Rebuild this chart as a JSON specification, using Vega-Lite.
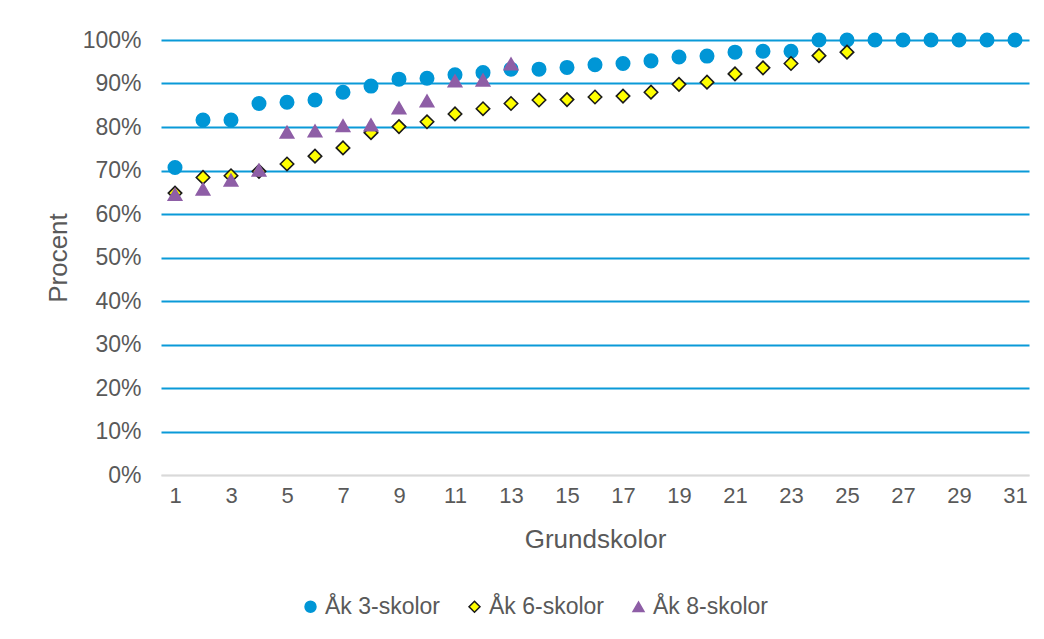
{
  "$schema": "https://vega.github.io/schema/vega-lite/v6.json",
  "width": 868,
  "height": 435,
  "autosize": {"type": "none"},
  "padding": {"left": 161, "top": 40, "right": 15, "bottom": 164},
  "background": "white",
  "config": {
    "font": "Liberation Sans",
    "view": {"stroke": null},
    "axis": {"labelFont": "Liberation Sans", "titleFont": "Liberation Sans", "labelColor": "#595959", "titleColor": "#595959", "titleFontWeight": "normal"}
  },
  "data": {
    "values": [
      {"skola": 1, "serie": "Åk 3-skolor", "andel": 0.707},
      {"skola": 2, "serie": "Åk 3-skolor", "andel": 0.816},
      {"skola": 3, "serie": "Åk 3-skolor", "andel": 0.816},
      {"skola": 4, "serie": "Åk 3-skolor", "andel": 0.854},
      {"skola": 5, "serie": "Åk 3-skolor", "andel": 0.857},
      {"skola": 6, "serie": "Åk 3-skolor", "andel": 0.862},
      {"skola": 7, "serie": "Åk 3-skolor", "andel": 0.880},
      {"skola": 8, "serie": "Åk 3-skolor", "andel": 0.894},
      {"skola": 9, "serie": "Åk 3-skolor", "andel": 0.910},
      {"skola": 10, "serie": "Åk 3-skolor", "andel": 0.912},
      {"skola": 11, "serie": "Åk 3-skolor", "andel": 0.920},
      {"skola": 12, "serie": "Åk 3-skolor", "andel": 0.925},
      {"skola": 13, "serie": "Åk 3-skolor", "andel": 0.933},
      {"skola": 14, "serie": "Åk 3-skolor", "andel": 0.933},
      {"skola": 15, "serie": "Åk 3-skolor", "andel": 0.937},
      {"skola": 16, "serie": "Åk 3-skolor", "andel": 0.943},
      {"skola": 17, "serie": "Åk 3-skolor", "andel": 0.946},
      {"skola": 18, "serie": "Åk 3-skolor", "andel": 0.952},
      {"skola": 19, "serie": "Åk 3-skolor", "andel": 0.961},
      {"skola": 20, "serie": "Åk 3-skolor", "andel": 0.963},
      {"skola": 21, "serie": "Åk 3-skolor", "andel": 0.972},
      {"skola": 22, "serie": "Åk 3-skolor", "andel": 0.974},
      {"skola": 23, "serie": "Åk 3-skolor", "andel": 0.974},
      {"skola": 24, "serie": "Åk 3-skolor", "andel": 1.0},
      {"skola": 25, "serie": "Åk 3-skolor", "andel": 1.0},
      {"skola": 26, "serie": "Åk 3-skolor", "andel": 1.0},
      {"skola": 27, "serie": "Åk 3-skolor", "andel": 1.0},
      {"skola": 28, "serie": "Åk 3-skolor", "andel": 1.0},
      {"skola": 29, "serie": "Åk 3-skolor", "andel": 1.0},
      {"skola": 30, "serie": "Åk 3-skolor", "andel": 1.0},
      {"skola": 31, "serie": "Åk 3-skolor", "andel": 1.0},
      {"skola": 1, "serie": "Åk 6-skolor", "andel": 0.648},
      {"skola": 2, "serie": "Åk 6-skolor", "andel": 0.684},
      {"skola": 3, "serie": "Åk 6-skolor", "andel": 0.688},
      {"skola": 4, "serie": "Åk 6-skolor", "andel": 0.698},
      {"skola": 5, "serie": "Åk 6-skolor", "andel": 0.715},
      {"skola": 6, "serie": "Åk 6-skolor", "andel": 0.733},
      {"skola": 7, "serie": "Åk 6-skolor", "andel": 0.752},
      {"skola": 8, "serie": "Åk 6-skolor", "andel": 0.787},
      {"skola": 9, "serie": "Åk 6-skolor", "andel": 0.801},
      {"skola": 10, "serie": "Åk 6-skolor", "andel": 0.812},
      {"skola": 11, "serie": "Åk 6-skolor", "andel": 0.830},
      {"skola": 12, "serie": "Åk 6-skolor", "andel": 0.842},
      {"skola": 13, "serie": "Åk 6-skolor", "andel": 0.854},
      {"skola": 14, "serie": "Åk 6-skolor", "andel": 0.862},
      {"skola": 15, "serie": "Åk 6-skolor", "andel": 0.863},
      {"skola": 16, "serie": "Åk 6-skolor", "andel": 0.869},
      {"skola": 17, "serie": "Åk 6-skolor", "andel": 0.871},
      {"skola": 18, "serie": "Åk 6-skolor", "andel": 0.880},
      {"skola": 19, "serie": "Åk 6-skolor", "andel": 0.898},
      {"skola": 20, "serie": "Åk 6-skolor", "andel": 0.903},
      {"skola": 21, "serie": "Åk 6-skolor", "andel": 0.922},
      {"skola": 22, "serie": "Åk 6-skolor", "andel": 0.936},
      {"skola": 23, "serie": "Åk 6-skolor", "andel": 0.946},
      {"skola": 24, "serie": "Åk 6-skolor", "andel": 0.964},
      {"skola": 25, "serie": "Åk 6-skolor", "andel": 0.972},
      {"skola": 1, "serie": "Åk 8-skolor", "andel": 0.645},
      {"skola": 2, "serie": "Åk 8-skolor", "andel": 0.657},
      {"skola": 3, "serie": "Åk 8-skolor", "andel": 0.678},
      {"skola": 4, "serie": "Åk 8-skolor", "andel": 0.701},
      {"skola": 5, "serie": "Åk 8-skolor", "andel": 0.788},
      {"skola": 6, "serie": "Åk 8-skolor", "andel": 0.791},
      {"skola": 7, "serie": "Åk 8-skolor", "andel": 0.803},
      {"skola": 8, "serie": "Åk 8-skolor", "andel": 0.805},
      {"skola": 9, "serie": "Åk 8-skolor", "andel": 0.844},
      {"skola": 10, "serie": "Åk 8-skolor", "andel": 0.860},
      {"skola": 11, "serie": "Åk 8-skolor", "andel": 0.906},
      {"skola": 12, "serie": "Åk 8-skolor", "andel": 0.908},
      {"skola": 13, "serie": "Åk 8-skolor", "andel": 0.945}
    ]
  },
  "mark": {"type": "point", "filled": true, "size": 180, "strokeWidth": 1.6, "opacity": 1},
  "encoding": {
    "x": {
      "field": "skola", "type": "quantitative",
      "scale": {"domain": [0.5, 31.5], "nice": false, "zero": false},
      "axis": {
        "values": [1, 3, 5, 7, 9, 11, 13, 15, 17, 19, 21, 23, 25, 27, 29, 31],
        "format": "d", "grid": false, "ticks": false,
        "domainColor": "#d9d9d9", "domainWidth": 1.5,
        "labelFontSize": 22, "labelPadding": 10,
        "title": "Grundskolor", "titleFontSize": 26, "titlePadding": 20
      }
    },
    "y": {
      "field": "andel", "type": "quantitative",
      "scale": {"domain": [0, 1], "nice": false},
      "axis": {
        "values": [0, 0.1, 0.2, 0.3, 0.4, 0.5, 0.6, 0.7, 0.8, 0.9, 1.0],
        "format": ".0%", "domain": false, "ticks": false,
        "grid": true,
        "gridColor": {"condition": {"test": "datum.value === 0", "value": "#d9d9d9"}, "value": "#0a9ad8"},
        "gridWidth": 2,
        "labelFontSize": 23, "labelPadding": 20,
        "title": "Procent", "titleFontSize": 26, "titlePadding": 11
      }
    },
    "fill": {
      "field": "serie", "type": "nominal",
      "scale": {"domain": ["Åk 3-skolor", "Åk 6-skolor", "Åk 8-skolor"], "range": ["#0096d6", "#ffff00", "#8e5ea6"]},
      "legend": {
        "title": null, "orient": "none", "direction": "horizontal",
        "legendX": 138, "legendY": 555,
        "labelFontSize": 23, "labelColor": "#595959", "labelFont": "Liberation Sans",
        "symbolSize": 120, "columnPadding": 22, "labelOffset": 3, "symbolStrokeWidth": 1.5
      }
    },
    "shape": {
      "field": "serie", "type": "nominal",
      "scale": {"domain": ["Åk 3-skolor", "Åk 6-skolor", "Åk 8-skolor"], "range": ["circle", "diamond", "triangle-up"]}
    },
    "stroke": {
      "field": "serie", "type": "nominal",
      "scale": {"domain": ["Åk 3-skolor", "Åk 6-skolor", "Åk 8-skolor"], "range": ["#0096d6", "#1a1a1a", "#8e5ea6"]}
    }
  }
}
